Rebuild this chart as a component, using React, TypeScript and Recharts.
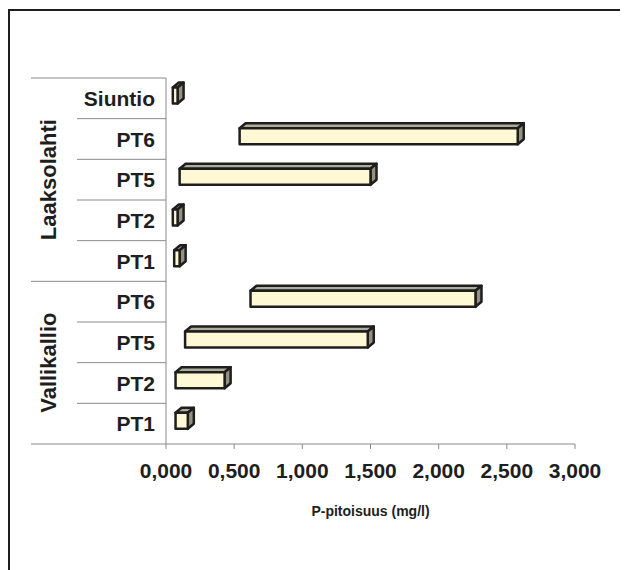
import { Bar, BarChart, XAxis, YAxis } from "recharts";

const W = 618;
const H = 559;
const PLOT_H = 366;

const FONT = "'Liberation Sans', Arial, Helvetica, sans-serif";
const INK = "#1e1e1e";
const GRID = "#8a8a8a";

// top to bottom, as drawn
const sites = ["Siuntio", "PT6", "PT5", "PT2", "PT1", "PT6", "PT5", "PT2", "PT1"];
const groups = ["Laaksolahti", "Vallikallio"];
const groupSizes = [5, 4];
const minValues = [0.05, 0.54, 0.1, 0.05, 0.06, 0.62, 0.14, 0.07, 0.07];
const maxValues = [0.085, 2.58, 1.5, 0.085, 0.1, 2.27, 1.48, 0.43, 0.16];
const xTicks = [0, 0.5, 1, 1.5, 2, 2.5, 3];

const data = sites.map((site, i) => ({
  key: String(i),
  site,
  range: [minValues[i], maxValues[i]],
}));

const BAND = PLOT_H / sites.length;

// first row index of each group
const groupStarts = groupSizes.map((_, g) =>
  groupSizes.slice(0, g).reduce((a, b) => a + b, 0)
);
const groupEnds = groupStarts.map((s, g) => s + groupSizes[g] - 1);

const fmt = (v: number) => v.toFixed(3).replace(".", ",");

function SiteTick(props: any) {
  const { y, payload } = props;
  const i = Number(payload.value);
  const bottom = y + BAND / 2;
  const isGroupEnd = groupEnds.includes(i);
  const g = groupStarts.indexOf(i);
  return (
    <g>
      <text
        x={145}
        y={y}
        dy="0.36em"
        textAnchor="end"
        fontFamily={FONT}
        fontWeight="bold"
        fontSize={21}
        fill={INK}
      >
        {sites[i]}
      </text>
      <line
        x1={isGroupEnd ? 21 : 67}
        x2={156}
        y1={bottom}
        y2={bottom}
        stroke={GRID}
        strokeWidth={1}
      />
      {i === 0 && (
        <line x1={21} x2={156} y1={y - BAND / 2} y2={y - BAND / 2} stroke={GRID} />
      )}
      {g >= 0 && (
        <text
          transform={`translate(38, ${y + ((groupSizes[g] - 1) * BAND) / 2}) rotate(-90)`}
          dy="0.36em"
          textAnchor="middle"
          fontFamily={FONT}
          fontWeight="bold"
          fontSize={22}
          fill={INK}
        >
          {groups[g]}
        </text>
      )}
    </g>
  );
}

function Box3D(props: any) {
  const { x, y, width, height } = props;
  const d = 6;
  const dy = 5;
  const fy = y - 2.5;
  const r = x + width;
  return (
    <g stroke={INK} strokeWidth={2.5} strokeLinejoin="round">
      <polygon
        points={`${x},${fy} ${x + d},${fy - dy} ${r + d},${fy - dy} ${r},${fy}`}
        fill="#adad9c"
      />
      <polygon
        points={`${r},${fy} ${r + d},${fy - dy} ${r + d},${fy + height - dy} ${r},${fy + height}`}
        fill="#92927f"
      />
      <rect x={x} y={fy} width={width} height={height} fill="#fff8d4" />
    </g>
  );
}

export default function App() {
  return (
    <div style={{ paddingTop: 1 }}>
      <style>{`body{overflow:hidden}`}</style>
      <div
        style={{
          width: W,
          height: H,
          borderTop: `2px solid ${INK}`,
          borderLeft: `2px solid ${INK}`,
          background: "#fff",
        }}
      >
        <BarChart
          width={W}
          height={H}
          data={data}
          layout="vertical"
          margin={{ top: 67, right: 53, left: 0, bottom: 51 }}
        >
          <XAxis
            type="number"
            domain={[0, 3]}
            ticks={xTicks}
            tickFormatter={fmt}
            height={75}
            tickSize={5}
            tickMargin={14}
            axisLine={{ stroke: GRID }}
            tickLine={{ stroke: GRID }}
            tick={{ fontFamily: FONT, fontWeight: "bold", fontSize: 21, fill: INK }}
            label={{
              value: "P-pitoisuus (mg/l)",
              position: "insideBottom",
              offset: 3,
              style: { fontFamily: FONT, fontWeight: "bold", fontSize: 14, fill: INK },
            }}
          />
          <YAxis
            type="category"
            dataKey="key"
            width={156}
            tickLine={false}
            axisLine={{ stroke: GRID }}
            tick={<SiteTick />}
            interval={0}
          />
          <Bar
            dataKey="range"
            barSize={16}
            shape={<Box3D />}
            isAnimationActive={false}
          />
        </BarChart>
      </div>
    </div>
  );
}
